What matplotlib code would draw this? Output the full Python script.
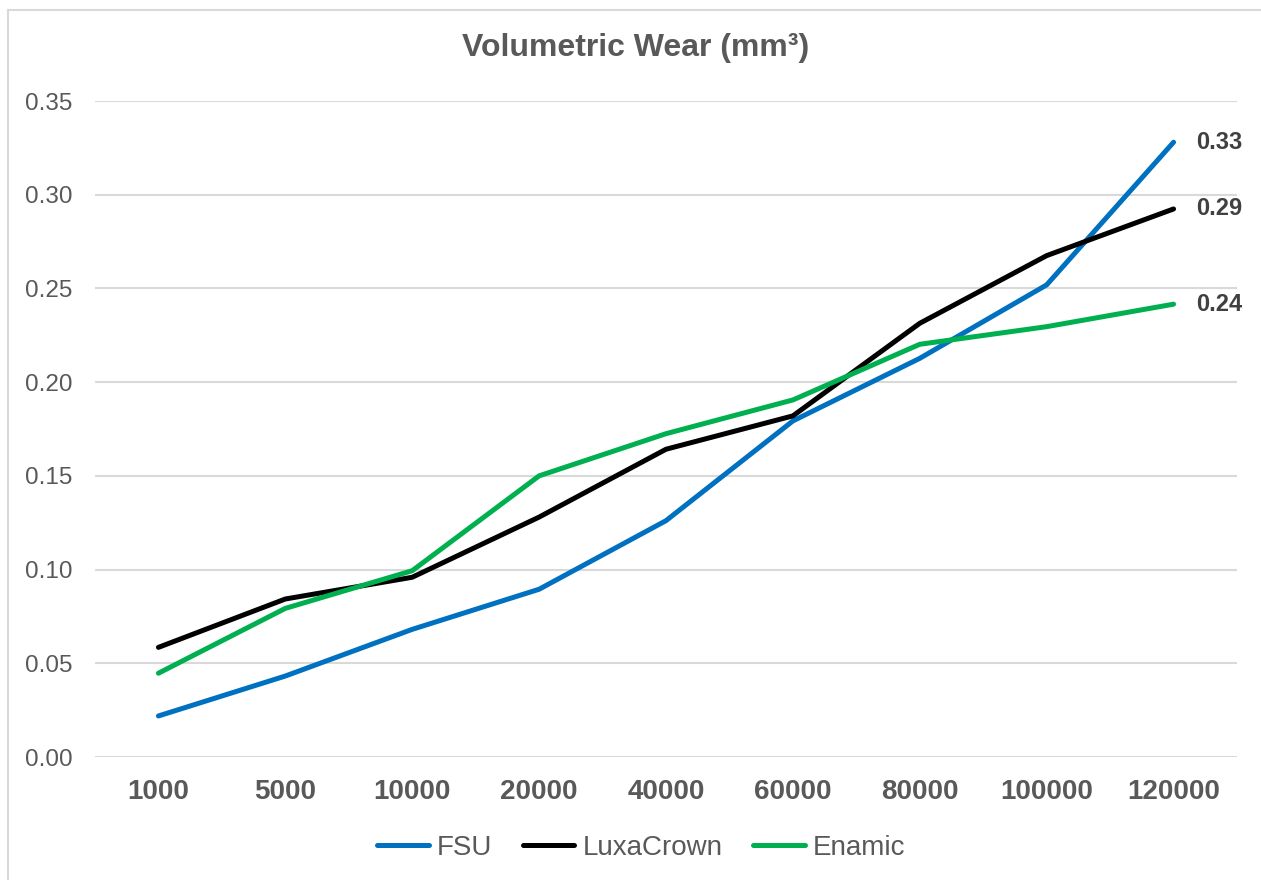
import matplotlib
matplotlib.use("Agg")
import matplotlib.pyplot as plt
from matplotlib.lines import Line2D

plt.rcParams['font.family'] = ['Liberation Sans', 'DejaVu Sans']

categories = ["1000", "5000", "10000", "20000", "40000", "60000", "80000", "100000", "120000"]
fsu = [0.0219, 0.0432, 0.0681, 0.0895, 0.1261, 0.1793, 0.2127, 0.2519, 0.3280]
luxacrown = [0.0585, 0.0843, 0.0959, 0.1280, 0.1642, 0.1820, 0.2314, 0.2675, 0.2924]
enamic = [0.0447, 0.0793, 0.0994, 0.1500, 0.1725, 0.1905, 0.2202, 0.2296, 0.2416]
series_names = ["FSU", "LuxaCrown", "Enamic"]
colors = ["#0070C0", "#000000", "#00B050"]
yticks = [0.00, 0.05, 0.10, 0.15, 0.20, 0.25, 0.30, 0.35]

W, H = 1261, 880
fig = plt.figure(figsize=(W / 100, H / 100), dpi=100)
ax = fig.add_axes([95 / W, 1 - 757 / H, (1237 - 95) / W, (757 - 101) / H])

x = list(range(len(categories)))
for vals, name, c in zip([fsu, luxacrown, enamic], series_names, colors):
    ax.plot(x, vals, color=c, lw=3.6, label=name, solid_capstyle='round', solid_joinstyle='round')
    ax.annotate(f"{vals[-1]:.2f}", (x[-1], vals[-1]), xytext=(16.5, 0), textcoords='offset points',
                ha='left', va='center', fontsize=17, fontweight='bold', color='#404040')

ax.set_xlim(-0.5, len(categories) - 0.5)
ax.set_ylim(0, 0.35)
ax.set_yticks(yticks)
ax.set_yticklabels([f"{v:.2f}" for v in yticks])
ax.set_xticks(x)
ax.set_xticklabels(categories, fontweight='bold')
ax.tick_params(axis='y', length=0, pad=16, labelsize=17.5, labelcolor='#595959')
ax.tick_params(axis='x', length=0, pad=16, labelsize=20, labelcolor='#595959')
ax.grid(axis='y', color='#D9D9D9', lw=1.5)
ax.set_axisbelow(True)
for s in ax.spines.values():
    s.set_visible(False)

fig.text(0.5 + 5 / W, 1 - 48 / H, "Volumetric Wear (mm³)", ha='center', va='center',
         fontsize=23, fontweight='bold', color='#595959')

leg = fig.legend(loc='center', bbox_to_anchor=(0.5 + 11 / W, 1 - 848 / H), ncol=3, frameon=False,
                 fontsize=20, handlelength=1.85, handletextpad=0.3, columnspacing=1.1)
for t in leg.get_texts():
    t.set_color('#595959')

fig.add_artist(Line2D([8 / W, 8 / W], [0, 1 - 10 / H], color='#D9D9D9', lw=1.5, transform=fig.transFigure))
fig.add_artist(Line2D([8 / W, 1], [1 - 10 / H, 1 - 10 / H], color='#D9D9D9', lw=1.5, transform=fig.transFigure))

fig.savefig("out.png", dpi=100)
